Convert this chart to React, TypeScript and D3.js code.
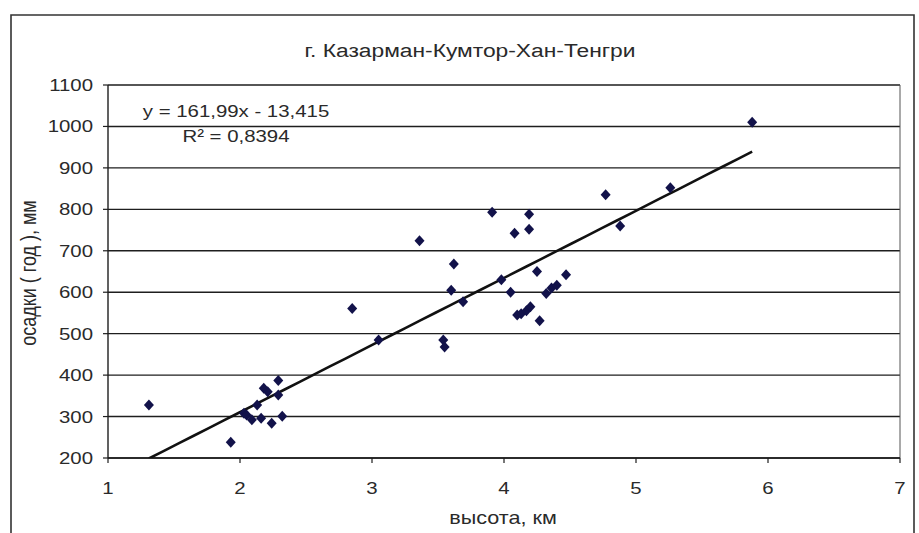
import React from "react";
import * as d3 from "d3";

// Station heights (km) and annual precipitation (mm)
const heights = [
  1.31, 1.93, 2.03, 2.05, 2.09, 2.13, 2.16, 2.18, 2.21, 2.24, 2.29, 2.29, 2.32,
  2.85, 3.05, 3.36, 3.54, 3.55, 3.6, 3.62, 3.69, 3.91, 3.98, 4.05, 4.08, 4.1,
  4.13, 4.17, 4.2, 4.19, 4.19, 4.25, 4.27, 4.32, 4.36, 4.4, 4.47, 4.77, 4.88,
  5.26, 5.88,
];
const precip = [
  328, 238, 308, 304, 292, 328, 296, 368, 360, 284, 352, 387, 301,
  561, 485, 724, 485, 468, 605, 668, 577, 793, 630, 600, 742, 545,
  548, 555, 565, 788, 752, 650, 531, 597, 610, 617, 642, 835, 760,
  852, 1010,
];

// Linear trend: y = slope * x + intercept
const slope = 161.99;
const intercept = -13.415;
const equationLabel = "y = 161,99x - 13,415";
const r2Label = "R² = 0,8394";

const xTicks = [1, 2, 3, 4, 5, 6, 7];
const yTicks = [200, 300, 400, 500, 600, 700, 800, 900, 1000, 1100];

const title = "г. Казарман-Кумтор-Хан-Тенгри";
const xTitle = "высота, км";
const yTitle = "осадки ( год ), мм";

const W = 919;
const H = 533;
const plot = { left: 108, right: 900, top: 85, bottom: 458 };
const font = "'Liberation Sans', Arial, sans-serif";
const stretch = 1.2;

export default function App() {
  const x = d3.scaleLinear().domain([1, 7]).range([plot.left, plot.right]);
  const y = d3.scaleLinear().domain([200, 1100]).range([plot.bottom, plot.top]);

  const points = heights.map((h, i) => ({ h, p: precip[i] }));
  const xMin = d3.min(heights) as number;
  const xMax = d3.max(heights) as number;
  const trend = d3.range(0, 41).map((i) => {
    const xv = xMin + ((xMax - xMin) * i) / 40;
    return [xv, slope * xv + intercept] as [number, number];
  });
  const trendPath = d3
    .line<[number, number]>()
    .x((d) => x(d[0]))
    .y((d) => y(d[1]))(trend) as string;

  const diamond = "M0,-5.5L5,0L0,5.5L-5,0Z";
  const textFill = "#2a2a2a";

  const stretched = (tx: number, ty: number) =>
    `translate(${tx},${ty}) scale(${stretch},1)`;

  return (
    <svg
      width={W}
      height={H}
      style={{ position: "absolute", left: 0, top: 0, background: "#fff" }}
      fontFamily={font}
    >
      <rect x={0} y={0} width={W} height={H} fill="#fff" />
      {/* chart frame */}
      <path
        d={`M11,${H}V15H914V${H}`}
        fill="none"
        stroke="#333"
        strokeWidth={1.6}
      />

      <text
        transform={stretched(470, 57)}
        textAnchor="middle"
        fontSize={19}
        fill={textFill}
      >
        {title}
      </text>

      <defs>
        <clipPath id="plot-clip">
          <rect
            x={plot.left}
            y={plot.top}
            width={plot.right - plot.left}
            height={plot.bottom - plot.top}
          />
        </clipPath>
      </defs>

      {/* horizontal gridlines */}
      {yTicks.map((t) => (
        <line
          key={`g${t}`}
          x1={plot.left}
          x2={plot.right}
          y1={y(t)}
          y2={y(t)}
          stroke="#1e1e1e"
          strokeWidth={1.4}
        />
      ))}
      <line
        x1={plot.right}
        x2={plot.right}
        y1={plot.top}
        y2={plot.bottom}
        stroke="#555"
        strokeWidth={1}
      />

      {/* y axis */}
      <line
        x1={plot.left}
        x2={plot.left}
        y1={plot.top}
        y2={plot.bottom}
        stroke="#1e1e1e"
        strokeWidth={1.4}
      />
      {yTicks.map((t) => (
        <g key={`y${t}`}>
          <line
            x1={plot.left - 5}
            x2={plot.left}
            y1={y(t)}
            y2={y(t)}
            stroke="#1e1e1e"
            strokeWidth={1.2}
          />
          <text
            transform={stretched(93, y(t) + 6)}
            textAnchor="end"
            fontSize={17}
            fill={textFill}
          >
            {t}
          </text>
        </g>
      ))}

      {/* x axis */}
      <line
        x1={plot.left}
        x2={plot.right}
        y1={plot.bottom}
        y2={plot.bottom}
        stroke="#1e1e1e"
        strokeWidth={1.5}
      />
      {xTicks.map((t) => (
        <g key={`x${t}`}>
          <line
            x1={x(t)}
            x2={x(t)}
            y1={plot.bottom}
            y2={plot.bottom + 5}
            stroke="#1e1e1e"
            strokeWidth={1.2}
          />
          <text
            transform={stretched(x(t), 494)}
            textAnchor="middle"
            fontSize={17}
            fill={textFill}
          >
            {t}
          </text>
        </g>
      ))}

      <text
        transform={stretched(503, 524)}
        textAnchor="middle"
        fontSize={18}
        fill={textFill}
      >
        {xTitle}
      </text>
      <text
        transform={`translate(36,273) rotate(-90) scale(1,${stretch})`}
        textAnchor="middle"
        fontSize={18}
        fill={textFill}
      >
        {yTitle}
      </text>

      {/* trend line */}
      <path
        d={trendPath}
        fill="none"
        stroke="#111"
        strokeWidth={2.6}
        clipPath="url(#plot-clip)"
      />

      {/* observations */}
      {points.map((d, i) => (
        <path
          key={i}
          d={diamond}
          transform={`translate(${x(d.h)},${y(d.p)})`}
          fill="#12124a"
        />
      ))}

      {/* regression equation */}
      <text
        transform={stretched(236, 117)}
        textAnchor="middle"
        fontSize={17}
        fill={textFill}
      >
        {equationLabel}
      </text>
      <text
        transform={stretched(236, 142)}
        textAnchor="middle"
        fontSize={17}
        fill={textFill}
      >
        {r2Label}
      </text>
    </svg>
  );
}
